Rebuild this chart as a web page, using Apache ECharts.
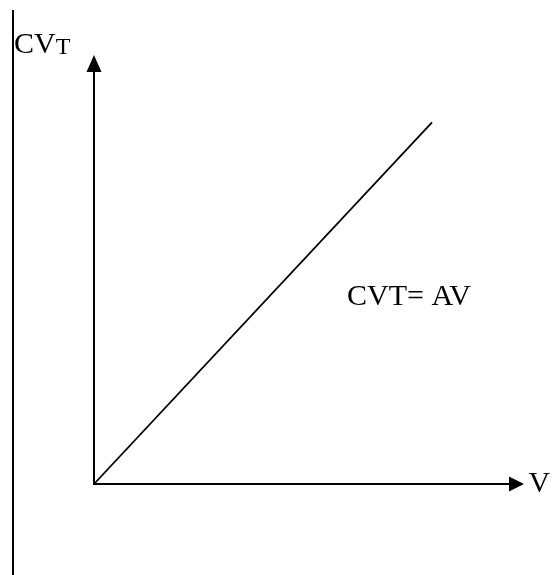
<!DOCTYPE html>
<html>
<head>
<meta charset="utf-8">
<script src="https://cdn.jsdelivr.net/npm/echarts@6/dist/echarts.min.js"></script>
<style>
  html, body { margin: 0; padding: 0; background: #fff; }
  #myChart { width: 556px; height: 575px; }
</style>
</head>
<body>
<div id="myChart"></div>
<script>
// values (axes run 0..100)
var vValues = [0, 80]
var cvtValues = [0, 86]
var xName = 'V'
var formulaText = 'CVT= AV'

var serif = '"Liberation Serif", "DejaVu Serif", serif'
var myChart = echarts.init(document.getElementById('myChart'))

var lineData = vValues.map(function (v, i) {
  return [v, cvtValues[i]]
})

var option = {
  backgroundColor: '#fff',
  animation: false,
  title: {
    text: '{a|CV}{b|T}',
    left: 14,
    top: 30,
    padding: 0,
    textStyle: {
      fontWeight: 'normal',
      rich: {
        a: { fontFamily: serif, fontSize: 30, fontWeight: 'normal', color: '#000', verticalAlign: 'bottom' },
        b: { fontFamily: serif, fontSize: 24, fontWeight: 'normal', color: '#000', verticalAlign: 'bottom' }
      }
    }
  },
  grid: {
    left: 94,
    right: 39.5,
    top: 63.5,
    bottom: 91
  },
  xAxis: {
    type: 'value',
    min: 0,
    max: 100,
    name: xName,
    nameLocation: 'end',
    nameGap: 12,
    nameTextStyle: { fontFamily: serif, fontSize: 30, color: '#000' },
    axisLine: {
      show: true,
      symbol: ['none', 'triangle'],
      symbolSize: [15, 15],
      lineStyle: { color: '#000', width: 2 }
    },
    axisTick: { show: false },
    axisLabel: { show: false },
    splitLine: { show: false }
  },
  yAxis: {
    type: 'value',
    min: 0,
    max: 100,
    axisLine: {
      show: true,
      symbol: ['none', 'triangle'],
      symbolSize: [15, 17],
      lineStyle: { color: '#000', width: 2 }
    },
    axisTick: { show: false },
    axisLabel: { show: false },
    splitLine: { show: false }
  },
  graphic: [
    {
      type: 'line',
      shape: { x1: 13, y1: 10, x2: 13, y2: 575 },
      style: { stroke: '#000', lineWidth: 2 }
    },
    {
      type: 'text',
      left: 347,
      top: 282,
      style: { text: formulaText, font: '30px ' + serif, fill: '#000' }
    }
  ],
  series: [
    {
      type: 'line',
      data: lineData,
      symbol: 'none',
      lineStyle: { color: '#000', width: 1.8 }
    }
  ]
}

myChart.setOption(option)
</script>
</body>
</html>
